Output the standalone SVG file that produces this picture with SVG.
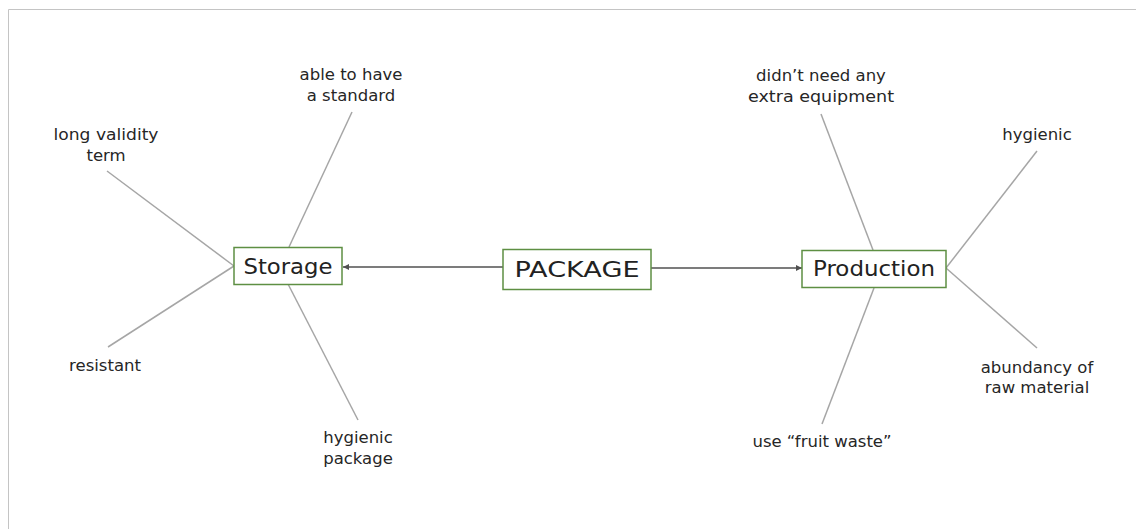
<svg xmlns="http://www.w3.org/2000/svg" width="1136" height="529" viewBox="0 0 1136 529">
<style>
.lbl{font-family:"DejaVu Sans","Liberation Sans",sans-serif;font-size:16.5px;fill:#262626;text-anchor:middle}
.ttl{font-family:"DejaVu Sans","Liberation Sans",sans-serif;font-size:21px;fill:#222;text-anchor:middle}
.box{fill:#fff;stroke:#5e8f43;stroke-width:1.5}
.br{stroke:#a6a6a6;stroke-width:1.5;fill:none}
.arr{stroke:#505050;stroke-width:1.3;fill:none;marker-end:url(#ah)}
</style>
<defs>
<marker id="ah" markerWidth="8" markerHeight="8" refX="6" refY="4" orient="auto" markerUnits="userSpaceOnUse">
<path d="M0,1 L6,4 L0,7 Z" fill="#505050"/>
</marker>
</defs>
<rect width="1136" height="529" fill="#fff"/>
<path d="M8.5,529 V9.5 H1136" stroke="#c4c4c4" stroke-width="1" fill="none"/>
<g id="connectors">
<line class="arr" x1="503" y1="267" x2="343" y2="267"/>
<line class="arr" x1="651" y1="268" x2="802" y2="268"/>
<line class="br" x1="234" y1="266" x2="107" y2="171"/>
<line class="br" x1="234" y1="266" x2="108" y2="347"/>
<line class="br" x1="289" y1="247" x2="352" y2="112"/>
<line class="br" x1="288" y1="284" x2="358" y2="420"/>
<line class="br" x1="873" y1="250" x2="821" y2="114"/>
<line class="br" x1="874" y1="288" x2="822" y2="424"/>
<line class="br" x1="946" y1="268" x2="1037" y2="151"/>
<line class="br" x1="946" y1="268" x2="1037" y2="348"/>
</g>
<g id="storage">
<rect class="box" x="234" y="247.5" width="108" height="37"/>
<text class="ttl" x="288" y="273.5" textLength="89" lengthAdjust="spacingAndGlyphs">Storage</text>
</g>
<g id="package">
<rect class="box" x="503" y="249.5" width="148" height="40"/>
<text class="ttl" x="577" y="277" textLength="125" lengthAdjust="spacingAndGlyphs">PACKAGE</text>
</g>
<g id="production">
<rect class="box" x="802" y="250.5" width="144" height="37"/>
<text class="ttl" x="874" y="276" textLength="122" lengthAdjust="spacingAndGlyphs">Production</text>
</g>
<g id="long-validity">
<text class="lbl" x="106" y="140" textLength="105" lengthAdjust="spacingAndGlyphs">long validity</text>
<text class="lbl" x="106" y="161">term</text>
</g>
<g id="able-standard">
<text class="lbl" x="351" y="80">able to have</text>
<text class="lbl" x="351" y="101">a standard</text>
</g>
<g id="resistant">
<text class="lbl" x="105" y="371">resistant</text>
</g>
<g id="hygienic-package">
<text class="lbl" x="358" y="443">hygienic</text>
<text class="lbl" x="358" y="464">package</text>
</g>
<g id="extra-equipment">
<text class="lbl" x="821" y="81">didn’t need any</text>
<text class="lbl" x="821" y="102" textLength="146" lengthAdjust="spacingAndGlyphs">extra equipment</text>
</g>
<g id="hygienic">
<text class="lbl" x="1037" y="140">hygienic</text>
</g>
<g id="abundancy">
<text class="lbl" x="1037" y="373">abundancy of</text>
<text class="lbl" x="1037" y="393">raw material</text>
</g>
<g id="fruit-waste">
<text class="lbl" x="822" y="447">use “fruit waste”</text>
</g>
</svg>
